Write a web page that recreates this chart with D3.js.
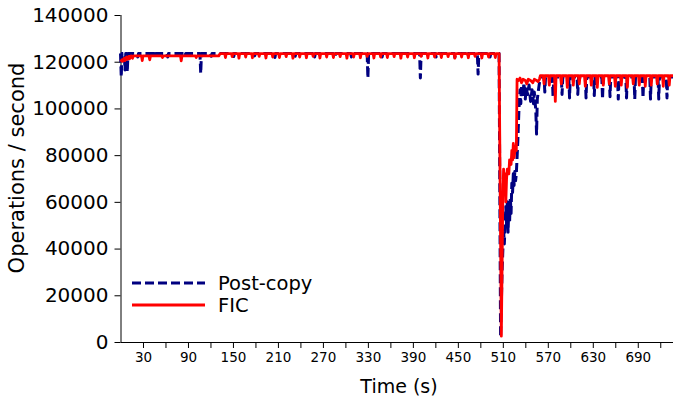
<!DOCTYPE html>
<html>
<head>
<meta charset="utf-8">
<script src="https://cdn.jsdelivr.net/npm/d3@7"></script>
<style>
  body { margin: 0; background: #fff; }
  svg, svg text { font-family: "DejaVu Sans", sans-serif; }
</style>
</head>
<body>
<div id="chart"></div>
<script>
// throughput samples [time (s), ops/s]
const postCopy = [
  [0,123500],[1,113500],[2,123500],[5,123500],[6,116500],[7,123500],[8,123500],[9,115500],[10,123500],
  [22,123500],[23,122000],[24,123500],[45,123500],[46,122300],[47,123500],[62,123500],[63,122000],[64,123500],
  [85,123500],[86,122500],[87,123500],[106,123500],[107,115000],[108,123500],[120,123500],[121,122300],[122,123500],
  [150,123500],[151,122200],[152,123500],[178,123500],[179,122500],[180,123500],[205,123500],[206,121800],[207,123500],
  [232,123500],[233,122300],[234,123500],[258,123500],[259,122000],[260,123500],[285,123500],[286,122300],[287,123500],
  [307,123500],[308,122000],[309,123500],[329,123500],[330,113000],[331,123500],[348,123500],[349,122000],[350,123500],
  [372,123500],[373,122300],[374,123500],[399,123500],[400,113000],[401,123500],[420,123500],[421,122000],[422,123500],
  [445,123500],[446,121800],[447,123500],[462,123500],[463,122300],[464,123500],[476,123500],[477,114700],[478,123500],
  [492,123500],[493,122000],[494,123500],[505,123500],
  [507,2000],[509,30000],[511,48000],[512,42000],[514,58000],[515,50000],[516,60000],[517,47000],[518,58000],
  [519,51000],[520,62000],[521,55000],[522,68000],[523,64000],[524,72000],[525,67000],[526,73000],[527,69000],
  [528,72000],[530,86000],[532,104000],[533,108000],[534,102000],[535,110000],[537,105000],[538,111000],[540,104000],
  [541,109000],[543,106000],[545,110000],[547,103000],[549,108000],[551,102000],[552,107000],[554,99000],[555,89000],
  [556,104000],[558,109000],[560,113500],
  [565,113500],[566,107000],[567,113500],[576,113500],[577,105000],[578,113500],[588,113500],[589,106000],[590,113500],
  [598,113500],[599,104500],[600,113500],[609,113500],[610,106000],[611,113500],[620,113500],[621,104500],[622,113500],
  [631,113500],[632,105500],[633,113500],[642,113500],[643,104000],[644,113500],[652,113500],[653,105000],[654,113500],
  [663,113500],[664,104000],[665,113500],[674,113500],[675,104500],[676,113500],[685,113500],[686,104000],[687,113500],
  [696,113500],[697,104500],[698,113500],[706,113500],[707,104000],[708,113500],[717,113500],[718,104000],[719,113500],
  [728,113500],[729,104500],[730,113500],[737,113500]
];

const fic = [
  [0,120000],[2,120800],[3,120200],[5,121500],[6,120500],[8,122000],[9,121000],[11,122300],[12,121200],[14,122500],
  [16,121500],[17,122500],[28,122500],[29,120500],[30,122500],[38,122500],[39,120800],[40,122500],
  [55,122500],[56,121800],[57,122500],[80,122500],[81,120400],[82,122500],[100,122500],[101,121800],[102,122500],
  [131,122500],[133,123500],
  [139,123500],[140,121800],[141,123500],[148,123500],[149,122200],[150,123500],[157,123500],[158,121500],[159,123500],
  [166,123500],[167,122000],[168,123500],[175,123500],[176,121700],[177,123500],[184,123500],[185,122300],[186,123500],
  [193,123500],[194,121600],[195,123500],[202,123500],[203,122000],[204,123500],[211,123500],[212,121800],[213,123500],
  [220,123500],[221,122200],[222,123500],[229,123500],[230,121500],[231,123500],[238,123500],[239,122000],[240,123500],
  [247,123500],[248,121700],[249,123500],[256,123500],[257,122300],[258,123500],[265,123500],[266,121600],[267,123500],
  [274,123500],[275,122000],[276,123500],[283,123500],[284,121800],[285,123500],[292,123500],[293,122200],[294,123500],
  [301,123500],[302,121500],[303,123500],[310,123500],[311,122000],[312,123500],[319,123500],[320,121700],[321,123500],
  [328,123500],[329,122300],[330,123500],[337,123500],[338,121600],[339,123500],[346,123500],[347,122000],[348,123500],
  [355,123500],[356,121800],[357,123500],[364,123500],[365,122200],[366,123500],[373,123500],[374,121500],[375,123500],
  [382,123500],[383,122000],[384,123500],[391,123500],[392,121700],[393,123500],[400,123500],[401,122300],[402,123500],
  [409,123500],[410,121600],[411,123500],[418,123500],[419,122000],[420,123500],[427,123500],[428,121800],[429,123500],
  [436,123500],[437,122200],[438,123500],[445,123500],[446,121500],[447,123500],[454,123500],[455,122000],[456,123500],
  [463,123500],[464,121700],[465,123500],[472,123500],[473,122300],[474,123500],[481,123500],[482,121600],[483,123500],
  [490,123500],[491,122000],[492,123500],[499,123500],[500,121800],[501,123500],[505,123500],
  [508,2500],[510,62000],[511,74000],[512,65000],[513,72000],[514,60000],[515,70000],[516,74000],[518,72000],
  [519,78000],[521,76000],[522,82000],[523,78000],[524,85000],[525,79000],[527,84000],[528,82000],[529,112500],
  [531,112000],[533,113000],[535,111000],[537,112500],[540,112000],[542,110500],[544,112500],[547,112000],[550,111000],
  [552,112500],[555,112000],[557,111500],[559,112500],[560,114000],
  [564,114000],[565,110500],[566,114000],[571,114000],[572,110000],[573,114000],[579,114000],[580,103000],[581,114000],
  [587,114000],[588,110500],[589,114000],[595,114000],[596,109000],[597,114000],[603,114000],[604,110000],[605,114000],
  [611,114000],[612,110500],[613,114000],[619,114000],[620,109500],[621,114000],[627,114000],[628,110000],[629,114000],
  [635,114000],[636,109000],[637,114000],[643,114000],[644,110000],[645,114000],[651,114000],[652,110500],[653,114000],
  [659,114000],[660,109500],[661,114000],[667,114000],[668,110000],[669,114000],[675,114000],[676,109000],[677,114000],
  [683,114000],[684,110500],[685,114000],[691,114000],[692,110000],[693,114000],[699,114000],[700,109500],[701,114000],
  [707,114000],[708,110000],[709,114000],[715,114000],[716,110500],[717,114000],[723,114000],[724,109500],[725,114000],
  [731,114000],[732,110000],[733,114000],[737,114000]
];

const xTicks = d3.range(30, 721, 30);
const xLabels = d3.range(30, 721, 60);
const yTicks = d3.range(0, 140001, 20000);
const seriesNames = ["Post-copy", "FIC"];

const width = 673, height = 403;
const plotLeft = 120.5, plotRight = 673, plotTop = 15, plotBottom = 342;
const font = "DejaVu Sans, sans-serif";

const svg = d3.select("#chart").append("svg")
  .attr("width", width)
  .attr("height", height);

const x = d3.scaleLinear().domain([0, 737]).range([plotLeft, plotRight]);
const y = d3.scaleLinear().domain([0, 140000]).range([plotBottom, plotTop]);

// axes
const xAxis = svg.append("g")
  .attr("transform", "translate(0," + plotBottom + ")")
  .call(d3.axisBottom(x).tickValues(xTicks).tickSize(6).tickPadding(4)
    .tickFormat(d => xLabels.includes(d) ? d : ""));
xAxis.attr("font-family", font);
xAxis.selectAll("text").attr("font-size", 13.5).attr("fill", "#000");

const yAxis = svg.append("g")
  .attr("transform", "translate(" + plotLeft + ",0)")
  .call(d3.axisLeft(y).tickValues(yTicks).tickSize(6).tickPadding(6).tickFormat(d3.format("d")));
yAxis.attr("font-family", font);
yAxis.selectAll("text").attr("font-size", 20).attr("fill", "#000");

svg.selectAll(".domain").attr("stroke", "#000").attr("stroke-width", 1);
svg.selectAll(".tick line").attr("stroke", "#000");
xAxis.select(".domain").attr("d", "M" + plotLeft + ",0.5H" + width);
yAxis.select(".domain").attr("d", "M0.5," + plotBottom + "V" + plotTop);

// lines
const line = d3.line().x(d => x(d[0])).y(d => y(d[1]));

svg.append("path")
  .datum(postCopy)
  .attr("fill", "none")
  .attr("stroke", "#000080")
  .attr("stroke-width", 3)
  .attr("stroke-dasharray", "9,4")
  .attr("stroke-linejoin", "round")
  .attr("d", line);

svg.append("path")
  .datum(fic)
  .attr("fill", "none")
  .attr("stroke", "#ff0000")
  .attr("stroke-width", 2.8)
  .attr("stroke-linejoin", "round")
  .attr("d", line);

// axis titles
svg.append("text")
  .attr("x", 399)
  .attr("y", 393)
  .attr("text-anchor", "middle")
  .attr("font-family", font)
  .attr("font-size", 19)
  .text("Time (s)");

svg.append("text")
  .attr("transform", "translate(24," + 168 + ") rotate(-90)")
  .attr("text-anchor", "middle")
  .attr("font-family", font)
  .attr("font-size", 21)
  .text("Operations / second");

// legend
const legend = svg.append("g");
seriesNames.forEach((name, i) => {
  const ly = 283 + i * 22;
  legend.append("line")
    .attr("x1", 132).attr("x2", 205)
    .attr("y1", ly).attr("y2", ly)
    .attr("stroke", i === 0 ? "#000080" : "#ff0000")
    .attr("stroke-width", 3)
    .attr("stroke-dasharray", i === 0 ? "9,4" : null);
  legend.append("text")
    .attr("x", 218).attr("y", ly + 7)
    .attr("font-family", font)
    .attr("font-size", 19.5)
    .text(name);
});
</script>
</body>
</html>
